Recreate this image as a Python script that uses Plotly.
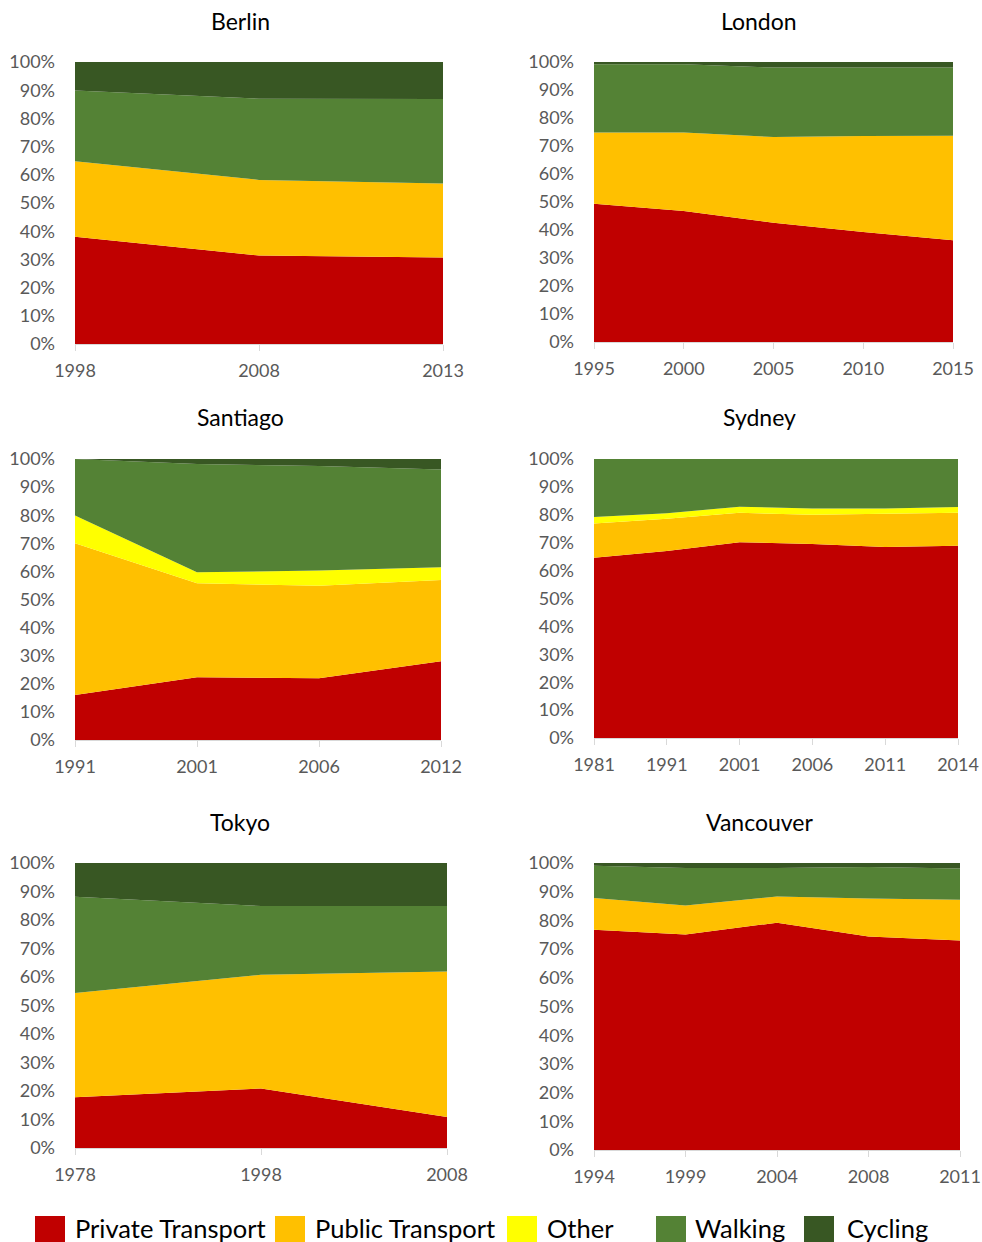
import plotly.graph_objects as go

# ---------------- data (percent of trips) ----------------
modes = ["Private Transport", "Public Transport", "Other", "Walking", "Cycling"]
mode_colors = ["#C00000", "#FFC000", "#FFFF00", "#548235", "#385723"]

berlin_years = ["1998", "2008", "2013"]
berlin_private = [38.0, 31.4, 30.7]
berlin_public = [26.8, 26.8, 26.2]
berlin_other = [0.0, 0.0, 0.0]
berlin_walking = [25.1, 28.8, 30.0]
berlin_cycling = [10.1, 13.0, 13.1]

london_years = ["1995", "2000", "2005", "2010", "2015"]
london_private = [49.4, 46.8, 42.6, 39.3, 36.3]
london_public = [25.4, 28.0, 30.6, 34.3, 37.4]
london_other = [0.0, 0.0, 0.0, 0.0, 0.0]
london_walking = [24.4, 24.4, 24.8, 24.4, 24.3]
london_cycling = [0.8, 0.8, 2.0, 2.0, 2.0]

santiago_years = ["1991", "2001", "2006", "2012"]
santiago_private = [16.0, 22.3, 22.0, 28.0]
santiago_public = [54.0, 33.5, 32.9, 28.9]
santiago_other = [9.9, 3.9, 5.4, 4.6]
santiago_walking = [20.1, 38.5, 37.2, 34.8]
santiago_cycling = [0.0, 1.8, 2.5, 3.7]

sydney_years = ["1981", "1991", "2001", "2006", "2011", "2014"]
sydney_private = [64.6, 67.0, 70.2, 69.5, 68.5, 68.9]
sydney_public = [12.3, 11.6, 10.5, 10.5, 11.9, 11.8]
sydney_other = [2.3, 2.0, 2.2, 2.3, 1.9, 2.1]
sydney_walking = [20.8, 19.4, 17.1, 17.7, 17.7, 17.2]
sydney_cycling = [0.0, 0.0, 0.0, 0.0, 0.0, 0.0]

tokyo_years = ["1978", "1998", "2008"]
tokyo_private = [17.8, 20.9, 10.9]
tokyo_public = [36.6, 39.9, 51.0]
tokyo_other = [0.0, 0.0, 0.0]
tokyo_walking = [33.8, 24.1, 23.0]
tokyo_cycling = [11.8, 15.1, 15.1]

vancouver_years = ["1994", "1999", "2004", "2008", "2011"]
vancouver_private = [76.7, 75.1, 79.2, 74.4, 73.0]
vancouver_public = [11.1, 10.1, 9.1, 13.2, 14.2]
vancouver_other = [0.0, 0.0, 0.0, 0.0, 0.0]
vancouver_walking = [11.2, 13.1, 10.0, 11.0, 10.9]
vancouver_cycling = [1.0, 1.7, 1.7, 1.4, 1.9]

y_ticks = [0, 10, 20, 30, 40, 50, 60, 70, 80, 90, 100]

cities = [
    ("Berlin", berlin_years, [berlin_private, berlin_public, berlin_other, berlin_walking, berlin_cycling]),
    ("London", london_years, [london_private, london_public, london_other, london_walking, london_cycling]),
    ("Santiago", santiago_years, [santiago_private, santiago_public, santiago_other, santiago_walking, santiago_cycling]),
    ("Sydney", sydney_years, [sydney_private, sydney_public, sydney_other, sydney_walking, sydney_cycling]),
    ("Tokyo", tokyo_years, [tokyo_private, tokyo_public, tokyo_other, tokyo_walking, tokyo_cycling]),
    ("Vancouver", vancouver_years, [vancouver_private, vancouver_public, vancouver_other, vancouver_walking, vancouver_cycling]),
]

# ---------------- layout (pixels in the 982x1242 window) ----------------
W, H = 982, 1242


def px(xpix):
    return xpix / W


def py(ypix):
    return 1 - ypix / H


# plot boxes: (left, right, top, bottom), title center x, title y
boxes = [
    (75, 443, 62, 344, 240, 21),
    (594, 953, 62, 342, 759, 21),
    (75, 441, 459, 740, 240, 417),
    (594, 958, 459, 738, 759, 417),
    (75, 447, 863, 1148, 240, 822),
    (594, 960, 863, 1150, 759, 822),
]

FONT = "Lato, Carlito, Calibri, sans-serif"
TICK_COLOR = "#595959"

fig = go.Figure()
layout = dict(
    width=W, height=H,
    margin=dict(l=0, r=0, t=0, b=0, autoexpand=False),
    paper_bgcolor="white", plot_bgcolor="white",
    showlegend=False,
    font=dict(family=FONT),
)
annotations = []
shapes = []

for i, (name, years, series) in enumerate(cities):
    n = i + 1
    xa = "x" if n == 1 else f"x{n}"
    ya = "y" if n == 1 else f"y{n}"
    for mode, color, vals in zip(modes, mode_colors, series):
        fig.add_trace(go.Scatter(
            x=years, y=vals, name=mode, mode="lines",
            line=dict(width=0, color=color), fillcolor=color,
            stackgroup=f"stack{n}", xaxis=xa, yaxis=ya,
            hoverinfo="x+y+name",
        ))
    l, r, t, b, tx, ty = boxes[i]
    layout[f"xaxis{n}"] = dict(
        domain=[px(l), px(r)], anchor=ya, type="category",
        range=[0, len(years) - 1], showgrid=False, zeroline=False,
        showline=True, linecolor="#D9D9D9", linewidth=1,
        ticks="outside", ticklen=6, tickcolor="#D9D9D9",
        tickfont=dict(size=18, color=TICK_COLOR, family=FONT),
        ticklabelstandoff=4, automargin=False,
    )
    layout[f"yaxis{n}"] = dict(
        domain=[py(b), py(t)], anchor=xa, range=[0, 100],
        tickvals=y_ticks, ticktext=[f"{v}%" for v in y_ticks],
        showgrid=False, zeroline=False, showline=False, ticks="",
        tickfont=dict(size=18, color=TICK_COLOR, family=FONT),
        ticklabelstandoff=19, automargin=False,
    )
    annotations.append(dict(
        text=name, x=px(tx), y=py(ty), xref="paper", yref="paper",
        xanchor="center", yanchor="middle", showarrow=False,
        font=dict(size=23, color="#000000", family=FONT),
    ))

# custom legend (square swatches + labels)
legend_box_x = [35, 275, 507, 656, 804]
legend_text_x = [73, 313, 545, 693, 845]
for mode, color, bx, lx in zip(modes, mode_colors, legend_box_x, legend_text_x):
    shapes.append(dict(
        type="rect", xref="paper", yref="paper",
        x0=px(bx), x1=px(bx + 30), y0=py(1250), y1=py(1216),
        fillcolor=color, line=dict(width=0),
    ))
    annotations.append(dict(
        text=mode, x=px(lx), y=py(1228), xref="paper", yref="paper",
        xanchor="left", yanchor="middle", showarrow=False,
        font=dict(size=25.5, color="#000000", family=FONT),
    ))

layout["annotations"] = annotations
layout["shapes"] = shapes
fig.update_layout(**layout)

fig.write_html(
    "out.html",
    config={"displayModeBar": False},
    post_script="document.body.style.margin='0';document.body.style.overflow='hidden';",
)
